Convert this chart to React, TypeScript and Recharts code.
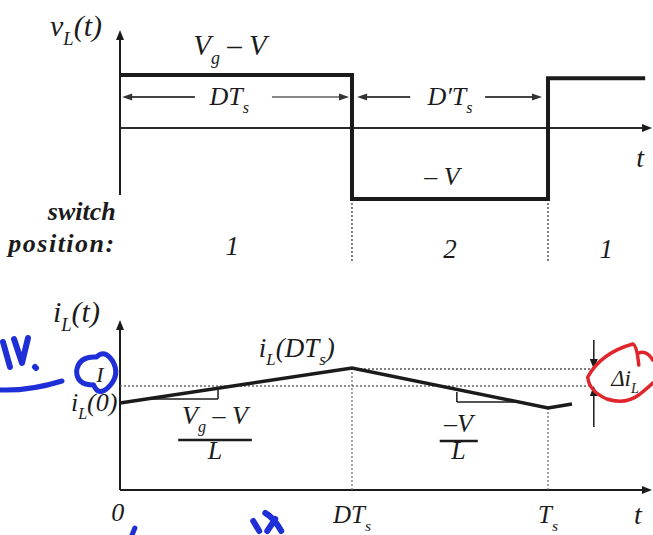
import { LineChart, Line, XAxis, YAxis, ReferenceLine, ReferenceDot } from "recharts";

const W = 653;
const T_DOMAIN = [-0.2804, 1.2453];

// switching instants, in units of Ts
const DTs = 0.542;
const Ts = 1;
const T_END = 1.227;

// inductor voltage: Vg - V during DTs, -V during D'Ts
const vlTime = [0, DTs, DTs, Ts, Ts, T_END];
const vlLevel = [1, 1, -1.34, -1.34, 0.94, 0.94];

// inductor current ramps
const ilTime = [0, DTs, Ts, 1.056];
const ilLevel = [0.87, 1.22, 0.82, 0.86];
const ilPeak = 1.21;
const ilAvg = 1.04;

const vlData = vlTime.map((t, i) => ({ t, v: vlLevel[i] }));
const ilData = ilTime.map((t, i) => ({ t, v: ilLevel[i] }));

const serif = "'Liberation Serif', 'Times New Roman', 'DejaVu Serif', serif";
const INK = "#1b1b1b";
const BLUE = "#1f2fd8";
const RED = "#e0262c";

type Part = string | [string];

// plain strings are normal runs, [string] is a subscript run
function rich(parts: Part[], size: number) {
  let low = false;
  return parts.map((p, i) => {
    if (Array.isArray(p)) {
      const el = (
        <tspan key={i} dy={low ? 0 : size * 0.3} fontSize={size * 0.62}>
          {p[0]}
        </tspan>
      );
      low = true;
      return el;
    }
    const el = (
      <tspan key={i} dy={low ? -size * 0.3 : 0} fontSize={size}>
        {p}
      </tspan>
    );
    low = false;
    return el;
  });
}

type LabelOpts = {
  size?: number;
  anchor?: "start" | "middle" | "end";
  weight?: string;
  fill?: string;
  spacing?: number;
};

const label = (key: string, t: number, v: number, parts: Part[], o: LabelOpts = {}) => (
  <ReferenceDot
    key={key}
    x={t}
    y={v}
    r={0}
    ifOverflow="visible"
    shape={(p: any) => (
      <text
        x={p.cx}
        y={p.cy}
        textAnchor={o.anchor ?? "middle"}
        style={{
          fontFamily: serif,
          fontStyle: "italic",
          fontWeight: o.weight ?? "normal",
          letterSpacing: o.spacing ?? 0,
        }}
        fill={o.fill ?? INK}
      >
        {rich(parts, o.size ?? 26)}
      </text>
    )}
  />
);

const ANGLE = { right: 0, down: 90, left: 180, up: 270 };

const arrow = (key: string, t: number, v: number, dir: keyof typeof ANGLE, fill = INK, len = 10, half = 4) => (
  <ReferenceDot
    key={key}
    x={t}
    y={v}
    r={0}
    ifOverflow="visible"
    shape={(p: any) => (
      <polygon
        points={`${p.cx},${p.cy} ${p.cx - len},${p.cy - half} ${p.cx - len},${p.cy + half}`}
        fill={fill}
        transform={`rotate(${ANGLE[dir]} ${p.cx} ${p.cy})`}
      />
    )}
  />
);

type SegOpts = { stroke?: string; width?: number; dash?: string };

const seg = (key: string, t1: number, v1: number, t2: number, v2: number, o: SegOpts = {}) => (
  <ReferenceLine
    key={key}
    segment={[
      { x: t1, y: v1 },
      { x: t2, y: v2 },
    ]}
    stroke={o.stroke ?? INK}
    strokeWidth={o.width ?? 2}
    strokeDasharray={o.dash}
    ifOverflow="visible"
  />
);

// freehand pen strokes, drawn relative to an anchor point
const ink = (key: string, t: number, v: number, d: string, stroke: string, width: number) => (
  <ReferenceDot
    key={key}
    x={t}
    y={v}
    r={0}
    ifOverflow="visible"
    shape={(p: any) => (
      <path
        d={d}
        transform={`translate(${p.cx} ${p.cy})`}
        fill="none"
        stroke={stroke}
        strokeWidth={width}
        strokeLinecap="round"
        strokeLinejoin="round"
      />
    )}
  />
);

function VoltageChart() {
  return (
    <LineChart width={W} height={270} data={vlData} margin={{ top: 0, right: 0, bottom: 0, left: 0 }}>
      <XAxis dataKey="t" type="number" domain={T_DOMAIN} hide allowDataOverflow />
      <YAxis type="number" domain={[-2.679, 2.415]} hide allowDataOverflow />
      {seg("yaxis", 0, -1.264, 0, 1.76)}
      {arrow("yarrow", 0, 1.85, "up")}
      {seg("xaxis", 0, 0, 1.23, 0, { stroke: "#2a2a2a", width: 2 })}
      {arrow("xarrow", 1.243, 0, "right")}
      {seg("dts", DTs, -1.34, DTs, -2.53, { stroke: "#555", width: 1.5, dash: "2 2" })}
      {seg("ts", Ts, -1.34, Ts, -2.53, { stroke: "#555", width: 1.5, dash: "2 2" })}

      {seg("d1a", 0.02, 0.585, 0.175, 0.585, { stroke: "#444", width: 2 })}
      {arrow("d1aa", 0.005, 0.585, "left", "#333", 10, 3.5)}
      {seg("d1b", 0.355, 0.585, 0.52, 0.585, { stroke: "#888", width: 2 })}
      {arrow("d1ba", 0.535, 0.585, "right", "#333", 10, 3.5)}
      {seg("d2a", 0.57, 0.585, 0.678, 0.585, { stroke: "#444", width: 2 })}
      {arrow("d2aa", 0.554, 0.585, "left", "#333", 10, 3.5)}
      {seg("d2b", 0.853, 0.585, 0.97, 0.585, { stroke: "#444", width: 2 })}
      {arrow("d2ba", 0.986, 0.585, "right", "#333", 10, 3.5)}

      <Line
        type="linear"
        dataKey="v"
        stroke={INK}
        strokeWidth={4}
        dot={false}
        activeDot={false}
        isAnimationActive={false}
      />

      {label("vl", -0.042, 1.74, ["v", ["L"], "(t)"], { anchor: "end", size: 30 })}
      {label("hi", 0.257, 1.38, ["V", ["g"], " \u2013 V"], { size: 29 })}
      {label("dt1", 0.255, 0.43, ["DT", ["s"]], { size: 26 })}
      {label("dt2", 0.771, 0.43, ["D\u2032T", ["s"]], { size: 26 })}
      {label("lo", 0.752, -1.08, ["\u2013 V"], { size: 26 })}
      {label("t", 1.215, -0.74, ["t"], { size: 28 })}
      {label("sw", -0.01, -1.74, ["switch"], { anchor: "end", size: 26, weight: "bold" })}
      {label("pos", -0.01, -2.33, ["position:"], { anchor: "end", size: 26, weight: "bold", spacing: 1.5 })}
      {label("p1", 0.262, -2.4, ["1"], { size: 27 })}
      {label("p2", 0.771, -2.45, ["2"], { size: 27 })}
      {label("p3", 1.136, -2.45, ["1"], { size: 27 })}
    </LineChart>
  );
}

function CurrentChart() {
  return (
    <LineChart width={W} height={265} data={ilData} margin={{ top: 0, right: 0, bottom: 0, left: 0 }}>
      <XAxis dataKey="t" type="number" domain={T_DOMAIN} hide allowDataOverflow />
      <YAxis type="number" domain={[-0.45, 2.2]} hide allowDataOverflow />
      {seg("yaxis", 0, 0, 0, 1.62)}
      {arrow("yarrow", 0, 1.7, "up")}
      {seg("xaxis", 0, 0, 1.23, 0)}
      {arrow("xarrow", 1.243, 0, "right")}
      {seg("vdts", DTs, 0, DTs, ilLevel[1], { stroke: "#666", width: 1.2, dash: "2 2" })}
      {seg("vts", Ts, 0, Ts, ilLevel[2], { stroke: "#666", width: 1.2, dash: "2 2" })}
      {seg("hpk", DTs, ilPeak, 1.098, ilPeak, { stroke: "#555", width: 1.5, dash: "2 2" })}
      {seg("havg", 0, ilAvg, 1.098, ilAvg, { stroke: "#666", width: 1.5, dash: "2 2" })}

      {/* slope triangles */}
      {seg("s1h", 0.062, 0.91, 0.229, 0.91, { width: 1.5 })}
      {seg("s1v", 0.229, 0.91, 0.229, 1.0, { width: 1.5 })}
      {seg("s2h", 0.787, 0.88, 0.923, 0.88, { width: 1.5 })}
      {seg("s2v", 0.787, 0.88, 0.787, 0.98, { width: 1.5 })}
      {seg("f1", 0.136, 0.5, 0.308, 0.5, { width: 2.5 })}
      {seg("f2", 0.747, 0.49, 0.836, 0.49, { width: 2.5 })}

      {/* ripple markers */}
      {seg("r1", 1.107, 1.5, 1.107, ilPeak + 0.05, { width: 1.5 })}
      {arrow("r1a", 1.107, ilPeak, "down", INK, 10, 4)}
      {seg("r2", 1.107, 0.63, 1.107, ilAvg - 0.05, { width: 1.5 })}
      {arrow("r2a", 1.107, ilAvg, "up", INK, 10, 4)}

      <Line
        type="linear"
        dataKey="v"
        stroke={INK}
        strokeWidth={3.5}
        dot={false}
        activeDot={false}
        isAnimationActive={false}
      />

      {label("il", -0.047, 1.68, ["i", ["L"], "(t)"], { anchor: "end", size: 30 })}
      {label("avg", -0.047, 1.08, ["I"], { size: 22 })}
      {label("il0", -0.006, 0.79, ["i", ["L"], "(0)"], { anchor: "end", size: 26 })}
      {label("ilpk", 0.413, 1.33, ["i", ["L"], "(DT", ["s"], ")"], { size: 27 })}
      {label("n1", 0.222, 0.66, ["V", ["g"], " \u2013 V"], { size: 26 })}
      {label("d1", 0.222, 0.31, ["L"], { size: 26 })}
      {label("n2", 0.791, 0.58, ["\u2013V"], { size: 26 })}
      {label("d2", 0.791, 0.31, ["L"], { size: 26 })}
      {label("di", 1.18, 1.04, ["\u0394i", ["L"]], { size: 23 })}
      {label("z", -0.005, -0.31, ["0"], { size: 26 })}
      {label("xdts", DTs, -0.33, ["DT", ["s"]], { size: 25 })}
      {label("xts", Ts, -0.33, ["T", ["s"]], { size: 25 })}
      {label("xt", 1.21, -0.34, ["t"], { size: 28 })}

      {/* pen marks */}
      {ink("pen1", -0.2804, 1.45, "M3 -3 L10 22 M14 -6 L22 18 L28 -7 M35 22 L36 23", BLUE, 6)}
      {ink("pen2", -0.2804, 1.02, "M0 2 Q30 3 62 -7", BLUE, 5)}
      {ink("pen3", -0.05, 1.15, "M-5 10 Q-22 10 -22 -4 Q-20 -19 -2 -18 Q6 -26 14 -14 Q22 0 10 12 Q0 22 -5 10", BLUE, 5)}
      {ink("pen4", 1.17, 1.15, "M-33 2 Q-20 -22 12 -31 Q16 -30 18 -10 M18 -22 Q26 -25 32 -15 M-33 2 Q-32 16 -14 24 Q4 30 18 20 Q28 12 32 8", RED, 3.5)}
      {ink("pen5", 0.03, -0.38, "M2 0 L-2 10", BLUE, 5)}
      {ink("pen6", 0.33, -0.27, "M-8 4 L-2 14 M4 -4 Q12 0 20 14 M14 2 L6 14", BLUE, 6)}
    </LineChart>
  );
}

export default function App() {
  return (
    <div style={{ position: "relative", width: W, height: 535, background: "#fff", overflow: "hidden" }}>
      <style>{"body{margin:0}"}</style>
      <div style={{ position: "absolute", left: 0, top: 0 }}>
        <VoltageChart />
      </div>
      <div style={{ position: "absolute", left: 0, top: 270 }}>
        <CurrentChart />
      </div>
    </div>
  );
}
